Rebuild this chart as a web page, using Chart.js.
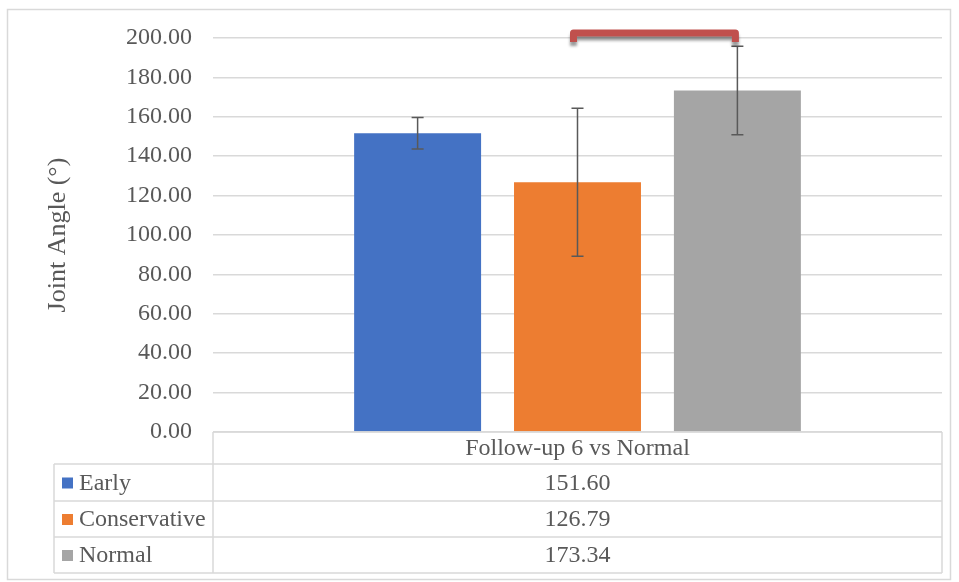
<!DOCTYPE html>
<html>
<head>
<meta charset="utf-8">
<script src="https://cdn.jsdelivr.net/npm/chart.js@4/dist/chart.umd.min.js"></script>
<style>
  html, body { margin: 0; padding: 0; background: #fff; }
</style>
</head>
<body>
<canvas id="angleChart" width="959" height="582"></canvas>
<script>
// data
const categories = ['Follow-up 6 vs Normal'];
const seriesNames = ['Early', 'Conservative', 'Normal'];
const earlyValues = [151.60];
const conservativeValues = [126.79];
const normalValues = [173.34];
const earlyErr = [8.0];
const conservativeErr = [37.6];
const normalErr = [22.5];
const bracketPair = [1, 2];   // Conservative -> Normal
const bracketLevel = 202.5;

const colors = ['#4472c4', '#ed7d31', '#a5a5a5'];
const errors = [earlyErr, conservativeErr, normalErr];
const serif = '"Liberation Serif", "Times New Roman", serif';
const textColor = '#595959';
const lineColor = '#d9d9d9';

// error bars on top of the bars
const errorBars = {
    id: 'errorBars',
    afterDatasetsDraw(chart) {
        const ctx = chart.ctx;
        const y = chart.scales.y;
        ctx.save();
        ctx.strokeStyle = '#595959';
        ctx.lineWidth = 1.5;
        chart.data.datasets.forEach(function(ds, i) {
            const meta = chart.getDatasetMeta(i);
            meta.data.forEach(function(bar, j) {
                const v = ds.data[j];
                const e = errors[i][j];
                const top = y.getPixelForValue(v + e);
                const bot = y.getPixelForValue(v - e);
                ctx.beginPath();
                ctx.moveTo(bar.x, top);
                ctx.lineTo(bar.x, bot);
                ctx.moveTo(bar.x - 6, top);
                ctx.lineTo(bar.x + 6, top);
                ctx.moveTo(bar.x - 6, bot);
                ctx.lineTo(bar.x + 6, bot);
                ctx.stroke();
            });
        });
        ctx.restore();
    }
};

// red significance bracket
const bracket = {
    id: 'bracket',
    afterDraw(chart) {
        const ctx = chart.ctx;
        const y = chart.scales.y.getPixelForValue(bracketLevel);
        const x1 = chart.getDatasetMeta(bracketPair[0]).data[0].x - 4;
        const x2 = chart.getDatasetMeta(bracketPair[1]).data[0].x - 2;
        ctx.save();
        ctx.strokeStyle = '#c0504d';
        ctx.lineWidth = 7;
        ctx.lineJoin = 'round';
        ctx.lineCap = 'butt';
        ctx.shadowColor = 'rgba(0,0,0,0.4)';
        ctx.shadowBlur = 3;
        ctx.shadowOffsetY = 4;
        ctx.beginPath();
        ctx.moveTo(x1, y + 9);
        ctx.lineTo(x1, y);
        ctx.lineTo(x2, y);
        ctx.lineTo(x2, y + 9);
        ctx.stroke();
        ctx.restore();
    }
};

// data table under the plot, plus the outer frame
const dataTable = {
    id: 'dataTable',
    afterDraw(chart) {
        const ctx = chart.ctx;
        const area = chart.chartArea;
        const left = 54, mid = area.left, right = area.right;
        const rows = [area.bottom, 464, 501, 537, 573];
        ctx.save();
        ctx.strokeStyle = lineColor;
        ctx.lineWidth = 1.5;
        ctx.beginPath();
        // header row
        ctx.moveTo(mid, rows[0]); ctx.lineTo(right, rows[0]);
        ctx.moveTo(mid, rows[0]); ctx.lineTo(mid, rows[4]);
        ctx.moveTo(right, rows[0]); ctx.lineTo(right, rows[4]);
        for (let r = 1; r < rows.length; r++) {
            ctx.moveTo(left, rows[r]); ctx.lineTo(right, rows[r]);
        }
        ctx.moveTo(left, rows[1]); ctx.lineTo(left, rows[4]);
        ctx.stroke();

        // outer frame
        ctx.strokeStyle = '#d9d9d9';
        ctx.lineWidth = 1.5;
        ctx.strokeRect(7.5, 9.5, 943, 570);

        ctx.fillStyle = textColor;
        ctx.font = '24px ' + serif;
        ctx.textBaseline = 'middle';
        ctx.textAlign = 'center';
        const cx = (mid + right) / 2;
        ctx.fillText(categories[0], cx, (rows[0] + rows[1]) / 2 + 1);
        chart.data.datasets.forEach(function(ds, i) {
            const cy = (rows[i + 1] + rows[i + 2]) / 2 + 1;
            ctx.textAlign = 'center';
            ctx.fillStyle = textColor;
            ctx.fillText(ds.data[0].toFixed(2), cx, cy);
            ctx.fillStyle = colors[i];
            ctx.fillRect(62, cy - 6, 11, 11);
            ctx.fillStyle = textColor;
            ctx.textAlign = 'left';
            ctx.fillText(ds.label, 79, cy);
        });
        ctx.restore();
    }
};

const context = document.getElementById('angleChart');
const data = {
    labels: categories,
    datasets: [
        { label: seriesNames[0], data: earlyValues, backgroundColor: colors[0] },
        { label: seriesNames[1], data: conservativeValues, backgroundColor: colors[1] },
        { label: seriesNames[2], data: normalValues, backgroundColor: colors[2] }
    ]
};

const config = {
    type: 'bar',
    data: data,
    options: {
        responsive: false,
        animation: false,
        layout: { padding: { left: 0, right: 17, top: 38, bottom: 150 } },
        datasets: { bar: { categoryPercentage: 0.658, barPercentage: 0.794 } },
        plugins: { legend: { display: false }, tooltip: { enabled: false } },
        scales: {
            x: { display: false },
            y: {
                min: 0,
                max: 200,
                afterFit: function(scale) { scale.width = 213; },
                border: { display: false },
                grid: { color: lineColor, lineWidth: 1.5, drawTicks: false },
                ticks: {
                    stepSize: 20,
                    padding: 21,
                    color: textColor,
                    font: { family: serif, size: 24 },
                    callback: function(v) { return v.toFixed(2); }
                },
                title: {
                    display: true,
                    text: 'Joint Angle (°)',
                    color: textColor,
                    font: { family: serif, size: 26 },
                    padding: { top: 43 }
                }
            }
        }
    },
    plugins: [errorBars, bracket, dataTable]
};

new Chart(context, config);
</script>
</body>
</html>
